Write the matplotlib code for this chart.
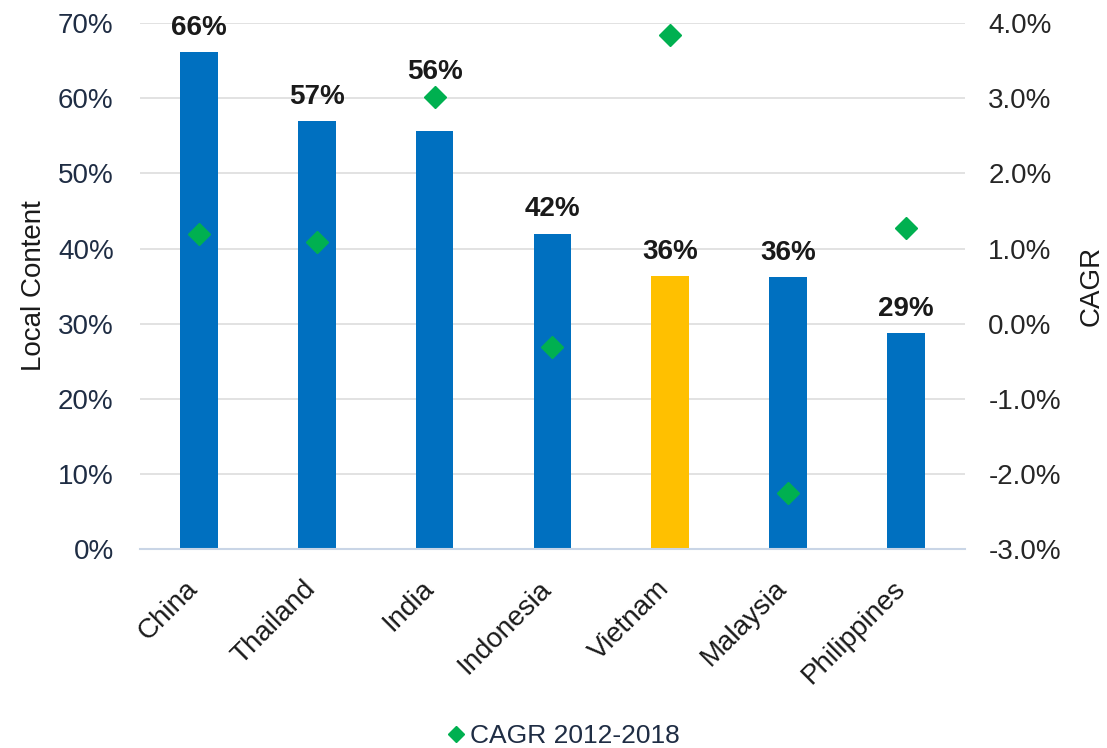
import numpy as np
import matplotlib.pyplot as plt
import matplotlib.transforms as mtransforms
from matplotlib.ticker import FuncFormatter

plt.rcParams['font.family'] = ['Liberation Sans', 'DejaVu Sans']

# data
countries = ['China', 'Thailand', 'India', 'Indonesia', 'Vietnam', 'Malaysia', 'Philippines']
local_content = [66.1, 57.0, 55.6, 42.0, 36.3, 36.2, 28.7]
value_labels = ['66%', '57%', '56%', '42%', '36%', '36%', '29%']
cagr = [1.19, 1.09, 3.02, -0.31, 3.84, -2.25, 1.27]
highlight = 'Vietnam'

blue = '#0070C0'
yellow = '#FFC000'
green = '#00B050'
navy = '#1F2D44'

fig = plt.figure(figsize=(11.07, 7.48), dpi=100)
ax = fig.add_axes([0.1265, 0.266, 0.745, 0.703])
ax2 = ax.twinx()

x = np.arange(len(countries))
colors = [yellow if c == highlight else blue for c in countries]
ax.bar(x, local_content, width=0.32, color=colors, zorder=2)

# labels sit above the bar, or above the diamond when the diamond is in the way
for xi, v, c, lab in zip(x, local_content, cagr, value_labels):
    bottom = v + 1.5
    diamond = (c + 3) * 10  # cagr in left-axis units
    if v < diamond < v + 8:
        bottom = diamond + 1.6
    ax.text(xi, bottom, lab, ha='center', va='bottom', fontsize=20,
            fontweight='bold', color='#1a1a1a')

ax.set_ylim(0, 70)
ax.set_yticks(np.arange(0, 71, 10))
ax.yaxis.set_major_formatter(FuncFormatter(lambda v, p: f'{v:.0f}%'))
ax.set_xlim(-0.5, len(countries) - 0.5)
ax.set_xticks(x)
ax.tick_params(axis='y', labelsize=20, labelcolor=navy, length=0, pad=19)
ax.tick_params(axis='x', length=0, pad=12)
ax.set_xticklabels(countries, rotation=45, ha='right', rotation_mode='anchor',
                   fontsize=20, color='#1a1a1a')
shift = mtransforms.ScaledTranslation(-14 / 100, -10 / 100, fig.dpi_scale_trans)
for t in ax.get_xticklabels():
    t.set_transform(t.get_transform() + shift)
ax.grid(axis='y', color='#DDDDDD', linewidth=1.2, zorder=0)
ax.set_axisbelow(True)
for s in ['top', 'right', 'left']:
    ax.spines[s].set_visible(False)
ax.spines['bottom'].set_color('#C9D5E6')
ax.spines['bottom'].set_linewidth(1.5)
ax.set_ylabel('Local Content', fontsize=20, color='#1a1a1a', labelpad=8)

ax2.plot(x, cagr, linestyle='none', marker='D', markersize=11, color=green,
         label='CAGR 2012-2018', zorder=3)
ax2.set_ylim(-3, 4)
ax2.set_yticks(np.arange(-3, 4.1, 1))
ax2.yaxis.set_major_formatter(FuncFormatter(lambda v, p: f'{v:.1f}%'))
ax2.tick_params(axis='y', labelsize=20, labelcolor='#262626', length=0, pad=17)
for s in ['top', 'right', 'left', 'bottom']:
    ax2.spines[s].set_visible(False)
ax2.set_ylabel('CAGR', fontsize=20, color='#1a1a1a', labelpad=13)

leg = fig.legend(loc='lower center', bbox_to_anchor=(0.508, -0.032), frameon=False,
                 fontsize=19, handletextpad=0.15, handlelength=0.8, markerscale=0.75)
for t in leg.get_texts():
    t.set_color(navy)

fig.savefig('out.png', dpi=100)
